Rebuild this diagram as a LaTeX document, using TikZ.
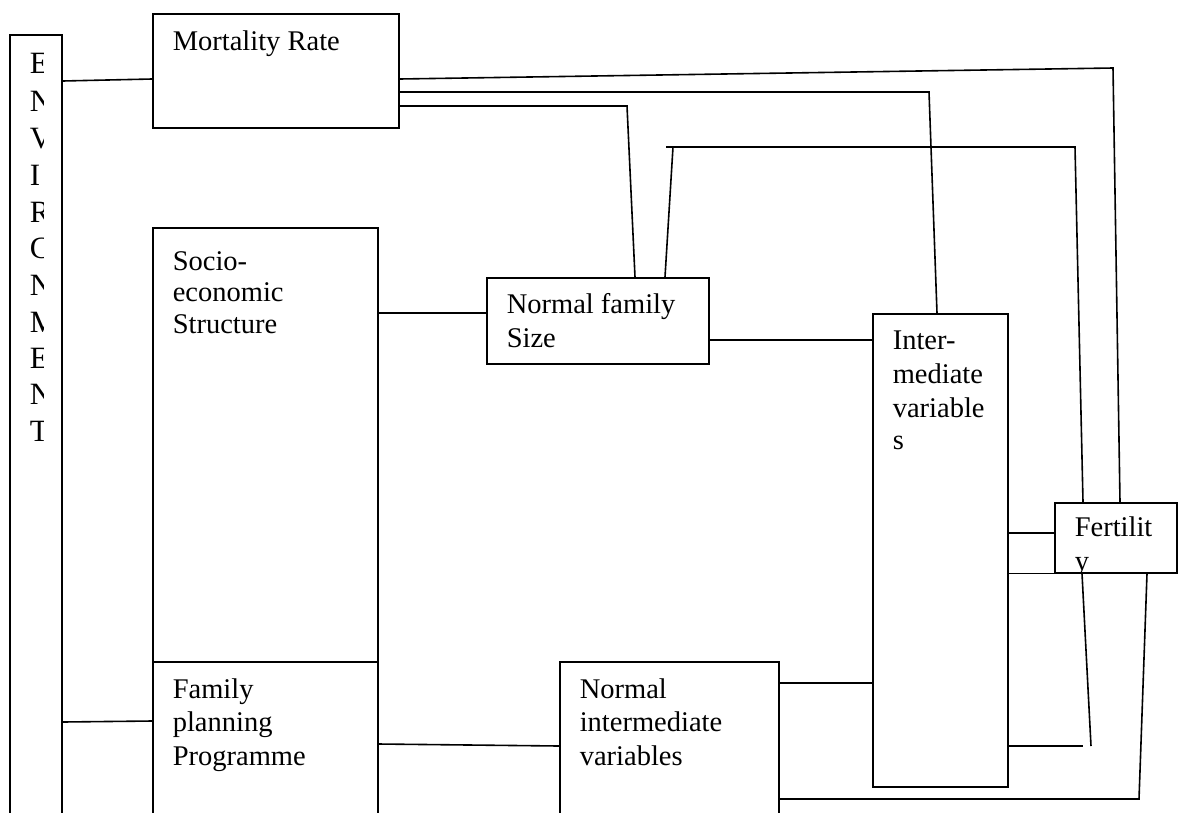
\documentclass[tikz,border=0pt]{standalone}
\usepackage{fontspec}
\setmainfont{Liberation Serif}
\begin{document}
\begin{tikzpicture}[x=1pt,y=-1pt,line width=1.6pt,
  box/.style={draw,rectangle,anchor=north west,inner sep=0pt,line width=1.6pt},
  txt/.style={anchor=base west,inner sep=0pt,font=\fontsize{28.5}{32}\selectfont},
  envtxt/.style={anchor=base west,inner sep=0pt,font=\fontsize{31}{36}\selectfont},
  conn/.style={draw,line width=1.6pt}]
\useasboundingbox (0,0) rectangle (1178,812);
\clip (0,0) rectangle (1178,812);
\fill[white] (0,0) rectangle (1178,812);
% boxes
\node[box,minimum width=52pt,minimum height=796pt] (env) at (9,34) {};
\node[box,minimum width=246pt,minimum height=114pt] (mort) at (152,13) {};
\node[box,minimum width=225pt,minimum height=434pt] (socio) at (152,227) {};
\node[box,minimum width=225pt,minimum height=169pt] (fp) at (152,661) {};
\node[box,minimum width=222pt,minimum height=86pt] (nfs) at (486,277) {};
\node[box,minimum width=219pt,minimum height=169pt] (niv) at (559,661) {};
\node[box,minimum width=135pt,minimum height=473pt] (inter) at (872,313) {};
\node[box,minimum width=122pt,minimum height=70pt] (fert) at (1054,502) {};
% ENVIRONMENT letters, clipped
\begin{scope}
\clip (20,34) rectangle (43.5,812);
\foreach \l/\yy [count=\i] in {E/73,N/111,V/148,I/185,R/222,C/258,N/295,M/332,E/368,N/404,T/441}
  \node[envtxt] (envl\i) at (29,\yy) {\l};
\end{scope}
% texts
\node[txt] (mortt) at (172,50) {Mortality Rate};
\node[txt] (socio1) at (172,270) {Socio-};
\node[txt] (socio2) at (172,301.5) {economic};
\node[txt] (socio3) at (172,333) {Structure};
\node[txt] (fp1) at (172,698) {Family};
\node[txt] (fp2) at (172,731) {planning};
\node[txt] (fp3) at (172,765) {Programme};
\node[txt] (nfs1) at (506,313) {Normal family};
\node[txt] (nfs2) at (506,347) {Size};
\node[txt] (niv1) at (579,698) {Normal};
\node[txt] (niv2) at (579,731) {intermediate};
\node[txt] (niv3) at (579,765) {variables};
\node[txt] (int1) at (892,349) {Inter-};
\node[txt] (int2) at (892,383) {mediate};
\node[txt] (int3) at (892,417) {variable};
\node[txt] (int4) at (892,449) {s};
\node[txt] (fer1) at (1074,536) {Fertilit};
\begin{scope}
\clip (1054,502) rectangle (1176,571);
\node[txt] (fer2) at (1074,570) {y};
\end{scope}
% connectors
\draw[conn] (env.east |- 0,81) -- (mort.west |- 0,79);
\draw[conn] (env.east |- 0,722) -- (fp.west |- 0,721);
\draw[conn] (socio.east |- 0,313) -- (nfs.west |- 0,313);
\draw[conn] (fp.east |- 0,744) -- (niv.west |- 0,746);
\draw[conn] (nfs.east |- 0,340) -- (inter.west |- 0,340);
\draw[conn] (niv.east |- 0,683) -- (inter.west |- 0,683);
\draw[conn] (mort.east |- 0,79) -- (1113,68) -- (fert.north -| 1120,0);
\draw[conn] (mort.east |- 0,92) -- (929,92) -- (inter.north -| 937,0);
\draw[conn] (mort.east |- 0,106) -- (627,106) -- (nfs.north -| 635,0);
\draw[conn] (nfs.north -| 665,0) -- (673,147);
\draw[conn] (666,147) -- (1075,147) -- (fert.north -| 1083,0);
\draw[conn] (inter.east |- 0,533) -- (fert.west |- 0,533);
\draw[conn] (inter.east |- fert.south) -- (fert.south west);
\draw[conn] (inter.east |- 0,746) -- (1083,746);
\draw[conn] (fert.south -| 1082,0) -- (1091,746);
\draw[conn] (fert.south -| 1147,0) -- (1139,799) -- (niv.east |- 0,799);
\end{tikzpicture}
\end{document}
